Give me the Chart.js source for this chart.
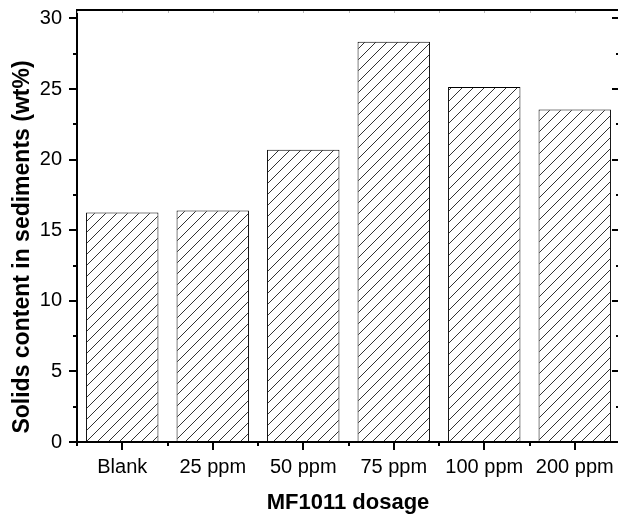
<!DOCTYPE html>
<html>
<head>
<meta charset="utf-8">
<script src="https://cdn.jsdelivr.net/npm/chart.js@4.4.1/dist/chart.umd.min.js"></script>
<style>
  html, body { margin: 0; padding: 0; background: #fff; overflow: hidden; }
  #wrap { width: 618px; height: 517px; overflow: hidden; }
  canvas { display: block; }
</style>
</head>
<body>
<div id="wrap"><canvas id="chart" width="630" height="517"></canvas></div>
<script>
const dosages = ["Blank", "25 ppm", "50 ppm", "75 ppm", "100 ppm", "200 ppm"]
const solids = [16.25, 16.4, 20.7, 28.35, 25.15, 23.55]
const yTicks = [0, 5, 10, 15, 20, 25, 30]
const yMinorTicks = [2.5, 7.5, 12.5, 17.5, 22.5, 27.5]

const xTitle = "MF1011 dosage"
const yTitle = "Solids content in sediments (wt%)"

const FONT = "'Liberation Sans', Arial, sans-serif"

// hatch fill like the original plot ( / lines )
const makeHatch = () => {
    const size = 11
    const tile = document.createElement("canvas")
    tile.width = size
    tile.height = size
    const c = tile.getContext("2d")
    c.fillStyle = "#fff"
    c.fillRect(0, 0, size, size)
    c.strokeStyle = "#333"
    c.lineWidth = 1
    c.beginPath()
    c.moveTo(-1, size + 1)
    c.lineTo(size + 1, -1)
    c.moveTo(-2, 2)
    c.lineTo(2, -2)
    c.moveTo(size - 2, size + 2)
    c.lineTo(size + 2, size - 2)
    c.stroke()
    return c.createPattern(tile, "repeat")
}

const frame = {
    id: "frame",
    afterDraw(chart) {
        const { ctx, chartArea: a, scales } = chart
        const x = scales.x
        const y = scales.y

        ctx.save()
        ctx.strokeStyle = "#000"

        // top and right borders (right one sits just past the visible edge, like the source)
        ctx.lineWidth = 2
        ctx.beginPath()
        ctx.moveTo(a.left - 1, a.top)
        ctx.lineTo(a.right, a.top)
        ctx.lineTo(a.right, a.bottom)
        ctx.lineTo(a.left, a.bottom)
        ctx.stroke()

        // y ticks, outward on the left, inward on the right
        const yTick = (v, len) => {
            const py = Math.round(y.getPixelForValue(v))
            ctx.beginPath()
            ctx.moveTo(a.left - len, py)
            ctx.lineTo(a.left, py)
            ctx.moveTo(a.right - len, py)
            ctx.lineTo(a.right, py)
            ctx.stroke()
        }
        ctx.lineWidth = 2
        yTicks.forEach(v => yTick(v, 8))
        yMinorTicks.forEach(v => yTick(v, 4))

        // x ticks: major at bar centres, minor at category edges
        const step = x.getPixelForValue(1) - x.getPixelForValue(0)
        dosages.forEach((_, i) => {
            const px = Math.round(x.getPixelForValue(i))
            ctx.beginPath()
            ctx.moveTo(px, a.bottom)
            ctx.lineTo(px, a.bottom + 8)
            ctx.stroke()
            const edge = Math.round(x.getPixelForValue(i) - step / 2)
            ctx.beginPath()
            ctx.moveTo(edge, a.bottom)
            ctx.lineTo(edge, a.bottom + 4)
            ctx.stroke()
        })

        // faint inner ticks on the top border
        ctx.strokeStyle = "#bbb"
        ctx.lineWidth = 1
        dosages.forEach((_, i) => {
            const px = Math.round(x.getPixelForValue(i)) + 0.5
            const edge = Math.round(x.getPixelForValue(i) - step / 2) + 0.5
            ctx.beginPath()
            ctx.moveTo(px, a.top + 1)
            ctx.lineTo(px, a.top + 3)
            ctx.moveTo(edge, a.top + 1)
            ctx.lineTo(edge, a.top + 3)
            ctx.stroke()
        })

        // axis titles
        ctx.fillStyle = "#000"
        ctx.font = "bold 22px " + FONT
        ctx.textAlign = "center"
        ctx.textBaseline = "middle"
        ctx.fillText(xTitle, 348, 503)

        ctx.font = "bold 23px " + FONT
        ctx.translate(23, 247)
        ctx.rotate(-Math.PI / 2)
        ctx.fillText(yTitle, 0, 0)
        ctx.restore()
    }
}

const ctx = document.getElementById("chart").getContext("2d")

new Chart(ctx, {
    type: "bar",
    data: {
        labels: dosages,
        datasets: [{
            data: solids,
            backgroundColor: makeHatch(),
            borderColor: "#000",
            borderWidth: 1,
            borderSkipped: "bottom",
            barPercentage: 0.8,
            categoryPercentage: 1
        }]
    },
    options: {
        responsive: false,
        animation: false,
        layout: { padding: { top: 10, right: 10, left: 0, bottom: 0 } },
        plugins: {
            legend: { display: false },
            tooltip: { enabled: false }
        },
        scales: {
            x: {
                offset: true,
                grid: { display: true, drawOnChartArea: false, drawTicks: false },
                border: { display: true, color: "#000", width: 2 },
                ticks: {
                    color: "#000",
                    font: { family: FONT, size: 20 },
                    padding: 13,
                    maxRotation: 0,
                    autoSkip: false
                },
                afterFit: scale => {
                    scale.height = 75
                    scale.paddingLeft = 0
                    scale.paddingRight = 0
                }
            },
            y: {
                min: 0,
                max: 30.6,
                grid: { display: true, drawOnChartArea: false, drawTicks: false },
                border: { display: true, color: "#000", width: 2 },
                ticks: {
                    color: "#000",
                    font: { family: FONT, size: 20 },
                    padding: 15
                },
                afterBuildTicks: scale => {
                    scale.ticks = yTicks.map(value => ({ value }))
                },
                afterFit: scale => {
                    scale.width = 77
                    scale.paddingTop = 0
                    scale.paddingBottom = 0
                }
            }
        }
    },
    plugins: [frame]
})
</script>
</body>
</html>
